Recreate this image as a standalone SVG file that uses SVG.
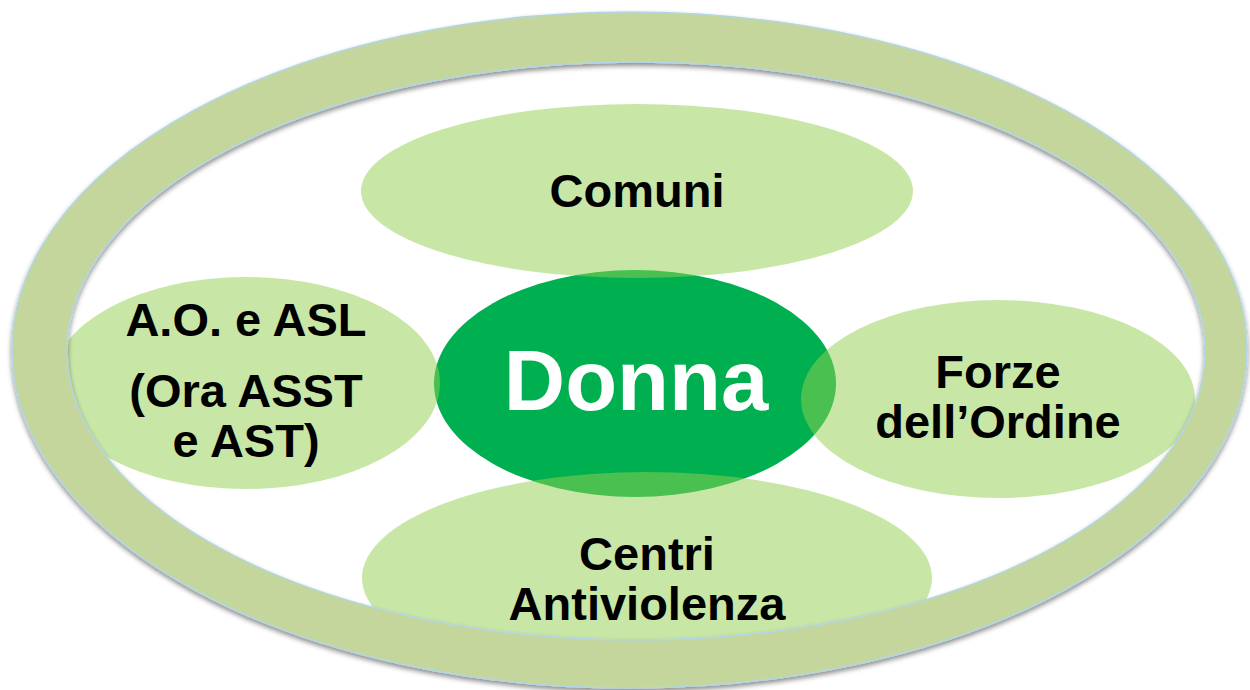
<svg xmlns="http://www.w3.org/2000/svg" width="1250" height="690" viewBox="0 0 1250 690">
<style>
.sat{fill:#92d050;fill-opacity:0.5}
.lbl{font-family:"Liberation Sans",Arial,sans-serif;font-weight:bold;font-size:47px;fill:#000;text-anchor:middle}
.core{font-family:"Liberation Sans",Arial,sans-serif;font-weight:bold;font-size:85px;fill:#fff;text-anchor:middle}
</style>
<defs>
<filter id="sh" x="-5%" y="-5%" width="110%" height="115%">
<feDropShadow dx="0" dy="3" stdDeviation="2.5" flood-color="#000" flood-opacity="0.45"/>
</filter>
</defs>
<rect width="1250" height="690" fill="#fff"/>
<g id="donna-shape"><ellipse cx="635" cy="383.5" rx="201" ry="113.5" fill="#00b050"/></g>
<g id="comuni"><ellipse class="sat" cx="637" cy="191" rx="276" ry="87"/><text class="lbl" x="637" y="207">Comuni</text></g>
<g id="ao-asl"><ellipse class="sat" cx="246" cy="383" rx="194" ry="106"/><text class="lbl" x="246" y="336">A.O. e ASL</text><text class="lbl" x="246" y="407">(Ora ASST</text><text class="lbl" x="246" y="457">e AST)</text></g>
<g id="forze"><ellipse class="sat" cx="998" cy="399" rx="197" ry="99"/><text class="lbl" x="998" y="388">Forze</text><text class="lbl" x="998" y="438">dell’Ordine</text></g>
<g id="centri"><ellipse class="sat" cx="647" cy="578" rx="285" ry="106"/><text class="lbl" x="647" y="570">Centri</text><text class="lbl" x="647" y="620">Antiviolenza</text></g>
<g id="ring"><path filter="url(#sh)" fill="#c4d69c" fill-rule="evenodd" stroke="#b3d6e4" stroke-width="1.5" d="M12,350 A617.5,338 0 1,0 1247,350 A617.5,338 0 1,0 12,350 Z M67,351 A569,289 0 1,0 1205,351 A569,289 0 1,0 67,351 Z"/></g>
<g id="donna"><text class="core" x="636" y="410">Donna</text></g>
<g id="connectors"></g>
</svg>
